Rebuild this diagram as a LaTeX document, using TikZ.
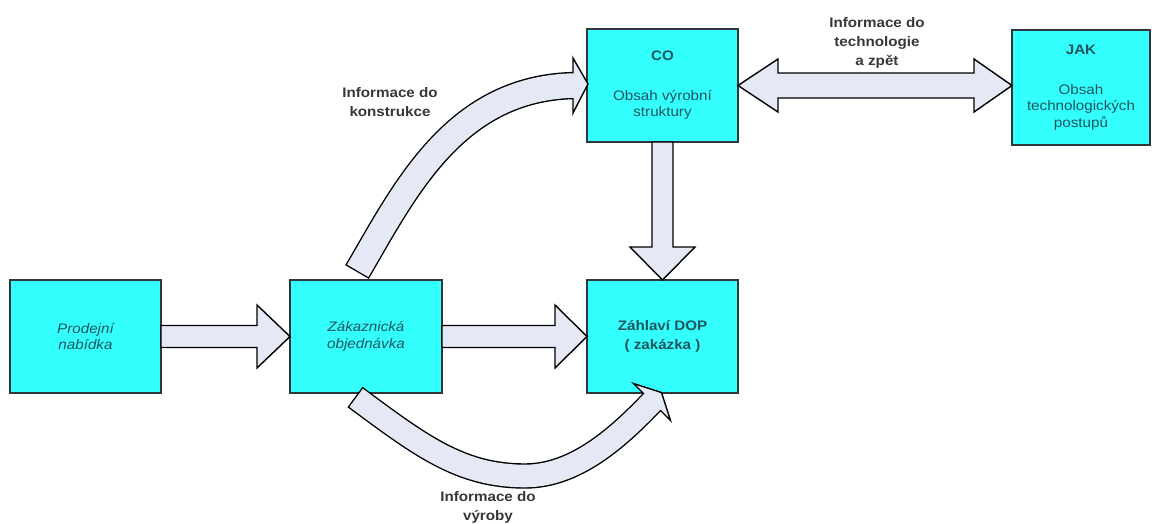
\documentclass[tikz,border=0pt]{standalone}
\usepackage{fontspec}
\setmainfont{Liberation Sans}[FakeStretch=1.1]
\usetikzlibrary{calc}

\definecolor{boxcyan}{RGB}{51,255,255}
\definecolor{boxline}{RGB}{45,55,60}
\definecolor{boxtext}{RGB}{30,85,92}
\definecolor{lbltext}{RGB}{55,55,55}
\definecolor{arrowfill}{RGB}{228,233,245}

\tikzset{
  box/.style={draw=boxline, fill=boxcyan, line width=1.3pt, inner sep=0pt, outer sep=0pt,
    minimum width=151pt, minimum height=113pt, align=center, text=boxtext,
    font=\fontsize{13.8}{16.5}\selectfont},
  blockarrow/.style={draw=black, fill=arrowfill, line width=1.4pt, line join=miter},
  lbl/.style={align=center, text=lbltext, inner sep=0pt, font=\bfseries\fontsize{13.8}{19}\selectfont},
}

\begin{document}
\begin{tikzpicture}[x=1pt, y=-1pt]
\fill[white] (0,0) rectangle (1152,523);
\useasboundingbox (0,0) rectangle (1152,523);

% process boxes
\node[box] (pn)  at (85.5,336.5) {\itshape Prodejní\\\itshape nabídka};
\node[box, minimum width=152pt] (zo) at (366,336.5) {\itshape Zákaznická\\\itshape objednávka};
\node[box] (dop) at (662.5,336.5) {\bfseries Záhlaví DOP\\[3pt]\bfseries ( zakázka )};
\node[box] (co)  at (662.5,85.5) {\bfseries CO\\[23pt]Obsah výrobní\\struktury};
\node[box, minimum width=138pt, minimum height=115pt] (jak) at (1081,87.5)
  {\bfseries JAK\\[23pt]Obsah\\technologických\\postupů};

% straight block arrows
\draw[blockarrow] ($(pn.east)+(0,-11)$) -- ($(zo.west)+(-33,-11)$) -- ($(zo.west)+(-33,-31.5)$)
  -- (zo.west) -- ($(zo.west)+(-33,31.5)$) -- ($(zo.west)+(-33,11)$) -- ($(pn.east)+(0,11)$) -- cycle;
\draw[blockarrow] ($(zo.east)+(0,-11)$) -- ($(dop.west)+(-32,-11)$) -- ($(dop.west)+(-32,-31.5)$)
  -- (dop.west) -- ($(dop.west)+(-32,31.5)$) -- ($(dop.west)+(-32,11)$) -- ($(zo.east)+(0,11)$) -- cycle;
\draw[blockarrow] ($(co.south)+(-10.5,0)$) -- ($(dop.north)+(-10.5,-33)$) -- ($(dop.north)+(-32.5,-33)$)
  -- (dop.north) -- ($(dop.north)+(32.5,-33)$) -- ($(dop.north)+(10.5,-33)$) -- ($(co.south)+(10.5,0)$) -- cycle;

% two-way arrow between CO and JAK
\coordinate (jt) at (jak.west |- co.east);
\draw[blockarrow] (co.east) -- ($(co.east)+(40,-26.5)$) -- ($(co.east)+(40,-12.5)$)
  -- ($(jt)+(-38,-12.5)$) -- ($(jt)+(-38,-26.5)$) -- (jt) -- ($(jt)+(-38,26.5)$)
  -- ($(jt)+(-38,12.5)$) -- ($(co.east)+(40,12.5)$) -- ($(co.east)+(40,26.5)$) -- cycle;

% curved arrow to CO
\coordinate (k0) at ($(zo.north)+(-9,-8)$);
\coordinate (k1) at ($(co.west)+(-14,0)$);
\coordinate (k1x) at ($(co.west)+(-11,0)$);
\draw[line width=27.4pt, black] (k0) .. controls +(48,-82) and +(-121,1.5) .. (k1x);
\draw[blockarrow] ($(k1)+(0,-27.5)$) -- ($(k1)+(15,-1.5)$) -- ($(k1)+(0,27.5)$) -- cycle;
\draw[line width=24.6pt, arrowfill, shorten <=1.4pt] (k0) .. controls +(48,-82) and +(-121,1.5) .. (k1x);

% curved arrow to the DOP header
\coordinate (v0) at ($(zo.south)+(-11,4)$);
\coordinate (vm) at (525,476);
\coordinate (v1) at ($(dop.south)+(-10.5,9)$);
\coordinate (v1x) at ($(v1)+(2.5,-2.5)$);
\draw[line width=25.4pt, black] (v0) .. controls +(65,48) and +(-65,0) .. (vm)
  .. controls +(55,0) and +(-29.5,30.5) .. (v1x);
\draw[blockarrow] ($(v1)+(-18.5,-18.5)$) -- ($(v1)+(9.5,-9.5)$) -- ($(v1)+(18.5,18.5)$) -- cycle;
\draw[line width=22.6pt, arrowfill, shorten <=1.4pt] (v0) .. controls +(65,48) and +(-65,0) .. (vm)
  .. controls +(55,0) and +(-29.5,30.5) .. (v1x);

% arrow labels
\node[lbl] (lk) at (390,102) {Informace do\\konstrukce};
\node[lbl] (lt) at (877,43) {Informace do\\technologie\\a zpět};
\node[lbl] (lv) at (488,507) {Informace do\\výroby};
\end{tikzpicture}
\end{document}
